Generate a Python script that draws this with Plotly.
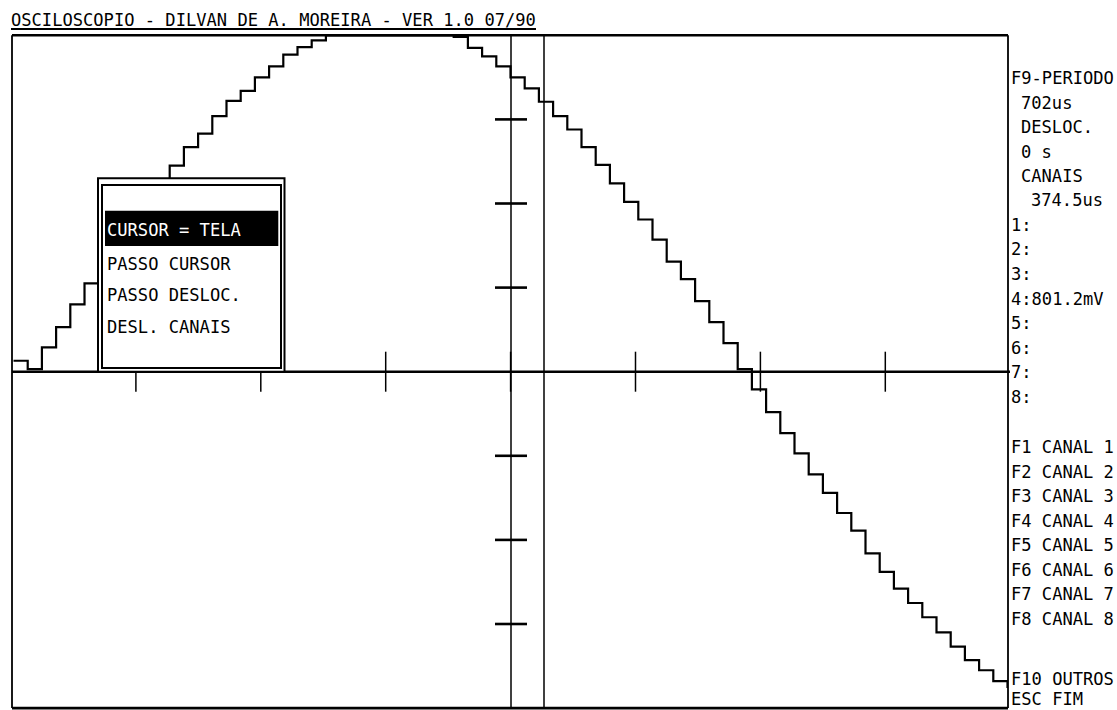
import plotly.graph_objects as go

W, H = 1117, 710
FONT = "DejaVu Sans Mono"
FS = 17.1
CW = 10.3  # character advance in px

# ---- data: sample index and channel-4 level in screen divisions
sample_index = list(range(71))
ch4_div = [0.13, 0.03, 0.29, 0.53, 0.80, 1.05, 1.29, 1.53, 1.78, 2.01,
           2.23, 2.45, 2.67, 2.83, 3.04, 3.22, 3.34, 3.50, 3.63, 3.77,
           3.86, 3.94, 4.00, 4.00, 4.00, 4.00, 4.00, 4.00, 4.00, 4.00,
           4.00, 3.98, 3.85, 3.75, 3.63, 3.50, 3.37, 3.21, 3.04, 2.88,
           2.67, 2.46, 2.24, 2.02, 1.81, 1.57, 1.31, 1.10, 0.84, 0.59,
           0.34, 0.03, -0.21, -0.48, -0.73, -0.97, -1.22, -1.44, -1.68, -1.89,
           -2.16, -2.38, -2.58, -2.75, -2.92, -3.10, -3.27, -3.43, -3.55, -3.68,
           -3.76]

title_text = "OSCILOSCOPIO - DILVAN DE A. MOREIRA - VER 1.0 07/90"
menu_items = ["CURSOR = TELA", "PASSO CURSOR", "PASSO DESLOC.", "DESL. CANAIS"]
panel_top = [("F9-PERIODO", 0), ("702us", 1), ("DESLOC.", 1), ("0 s", 1),
             ("CANAIS", 1), ("374.5us", 2), ("1:", 0), ("2:", 0), ("3:", 0),
             ("4:801.2mV", 0), ("5:", 0), ("6:", 0), ("7:", 0), ("8:", 0)]
panel_keys = ["F1 CANAL 1", "F2 CANAL 2", "F3 CANAL 3", "F4 CANAL 4",
              "F5 CANAL 5", "F6 CANAL 6", "F7 CANAL 7", "F8 CANAL 8"]
panel_bottom = ["F10 OUTROS", "ESC FIM"]

# ---- screen geometry (pixels)
L, R, T, B = 12, 1008, 35.3, 708.1
CY = 371.7
DIVY = 84.1


def X(px):
    return px / W


def Y(py):
    return 1 - py / H


fig = go.Figure()
fig.add_trace(go.Scatter(x=sample_index, y=ch4_div, mode="lines",
                         line=dict(color="black", width=2.2, shape="hv"),
                         hoverinfo="skip", showlegend=False))

shapes = []


def line(x0, y0, x1, y1, w=2.0):
    shapes.append(dict(type="line", xref="paper", yref="paper",
                       x0=X(x0), y0=Y(y0), x1=X(x1), y1=Y(y1),
                       line=dict(color="black", width=w), layer="above"))


def rect(x0, y0, x1, y1, w=2.0, fill=None, lc="black"):
    d = dict(type="rect", xref="paper", yref="paper",
             x0=X(x0), y0=Y(y0), x1=X(x1), y1=Y(y1),
             line=dict(color=lc, width=w), layer="above")
    if fill:
        d["fillcolor"] = fill
    shapes.append(d)


# frame
line(L, T, R, T, 2.6)
line(L, B, R, B, 2.6)
line(L, T, L, B, 1.8)
line(R, T, R, B, 1.8)
# centre line and its ticks
line(L, CY, R + 2, CY, 2.6)
for j in range(1, 8):
    xp = 11 + 124.9 * j
    line(xp, CY - 20, xp, CY + 20, 1.5)
# cursors
line(511, T, 511, B, 1.5)
line(544, T, 544, B, 1.5)
for j in (-3, -2, -1, 1, 2, 3):
    yp = CY + DIVY * j
    line(495, yp, 527, yp, 2.6)
# title underline
line(11, 29, 536, 29, 2.0)
# menu box
rect(98, 178.3, 284.5, CY, 2.0, fill="white")
rect(102, 185, 281, 368, 2.0)
rect(105, 210.7, 278.3, 246, 0, fill="black", lc="rgba(0,0,0,0)")

ann = []


def text(s, xp, yp, color="black"):
    ann.append(dict(text=s.replace(" ", "\u00a0"), xref="paper", yref="paper",
                    x=X(xp), y=Y(yp), xanchor="left", yanchor="middle",
                    showarrow=False, font=dict(family=FONT, size=FS, color=color)))


text(title_text, 9, 20)
menu_y = [229.5, 263.5, 295, 327.5]
for i, s in enumerate(menu_items):
    text(s, 104.5, menu_y[i], "white" if i == 0 else "black")
for i, (s, ind) in enumerate(panel_top):
    text(s, 1008.5 + ind * CW, 78 + 24.5 * i)
for i, s in enumerate(panel_keys):
    text(s, 1008.5, 447 + 24.5 * i)
text(panel_bottom[0], 1008.5, 679)
text(panel_bottom[1], 1008.5, 699)

fig.update_layout(
    width=W, height=H, margin=dict(l=0, r=0, t=0, b=0),
    paper_bgcolor="white", plot_bgcolor="white",
    xaxis=dict(domain=[X(L), X(R)], range=[-0.106, 70.035], visible=False,
               fixedrange=True),
    yaxis=dict(domain=[Y(B), Y(T)], range=[-4, 4], visible=False,
               fixedrange=True),
    shapes=shapes, annotations=ann, showlegend=False,
)

fig.write_html("out.html", config={"displayModeBar": False},
               post_script="document.body.style.margin='0';"
                           "document.body.style.overflow='hidden';")
